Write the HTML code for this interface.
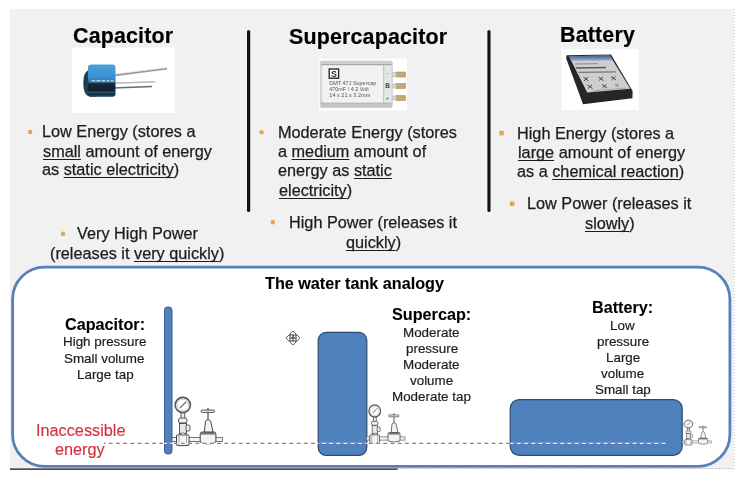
<!DOCTYPE html>
<html><head><meta charset="utf-8">
<style>
html,body{margin:0;padding:0;background:#fff;}
body{width:748px;height:485px;position:relative;overflow:hidden;font-family:"Liberation Sans",sans-serif;color:#222;}
.bg{position:absolute;left:10px;top:9px;width:723px;height:460px;background:#f1f1f1;}
.a{position:absolute;white-space:pre;line-height:1;will-change:transform;}
.h{font-size:21.4px;font-weight:bold;color:#000;letter-spacing:0.18px;-webkit-text-stroke:0.2px #000;}
.t{font-size:16.25px;color:#1c1c1c;-webkit-text-stroke:0.25px #1c1c1c;}
.b{font-size:16.2px;font-weight:bold;color:#000;-webkit-text-stroke:0.1px #000;}
.s{font-size:13.4px;color:#1c1c1c;-webkit-text-stroke:0.2px #1c1c1c;}
.r{font-size:16.25px;color:#d6313f;-webkit-text-stroke:0.15px #d6313f;}
u{text-decoration-thickness:1.4px;text-underline-offset:2.2px;text-decoration-skip-ink:none;}
svg{position:absolute;overflow:visible;}
</style></head><body>
<div class="bg"></div>
<svg width="748" height="485" style="left:0;top:0" viewBox="0 0 748 485">
<defs>
<filter id="soft" x="-10%" y="-10%" width="120%" height="120%"><feGaussianBlur stdDeviation="0.35"/></filter>
<linearGradient id="capg" x1="0" y1="0" x2="0" y2="1">
<stop offset="0" stop-color="#4aa2dc"/><stop offset="0.4" stop-color="#3a90d0"/><stop offset="0.44" stop-color="#3585c2"/><stop offset="0.56" stop-color="#2a5f85"/><stop offset="0.6" stop-color="#16283a"/><stop offset="0.82" stop-color="#131f2b"/><stop offset="0.86" stop-color="#2a5e82"/><stop offset="0.9" stop-color="#1a3042"/><stop offset="1" stop-color="#1e3a50"/>
</linearGradient>

<linearGradient id="batb" x1="0" y1="0" x2="0" y2="1">
<stop offset="0" stop-color="#3e5f92"/><stop offset="1" stop-color="#9bb0cc"/>
</linearGradient>

</defs>

<!-- frame -->
<rect x="12.6" y="267.1" width="717.3" height="199.3" rx="32" fill="#fff" stroke="#5881bb" stroke-width="2.8"/>
<line x1="10" y1="469.2" x2="397.6" y2="469.2" stroke="#111" stroke-width="1.3"/>
<line x1="397.6" y1="468.6" x2="734" y2="468.6" stroke="#9a9a9a" stroke-width="1" stroke-dasharray="1 2"/>
<line x1="734" y1="9" x2="734" y2="468.6" stroke="#b0b0b0" stroke-width="1" stroke-dasharray="1 2"/>
<!-- bullets & separators -->
<rect x="247" y="30" width="3.2" height="182" rx="1.6" fill="#111"/>
<rect x="487.4" y="30" width="3.1" height="182" rx="1.5" fill="#111"/>
<g fill="#e2a64c" filter="url(#soft)">
<circle cx="30.2" cy="131.9" r="2.2"/>
<circle cx="63" cy="233.8" r="2.2"/>
<circle cx="261.6" cy="132.3" r="2.2"/>
<circle cx="272.8" cy="222.3" r="2.2"/>
<rect x="499.3" y="130.9" width="4.5" height="4.5"/>
<rect x="509.9" y="201.5" width="4.5" height="4.5"/>
</g>
<!-- capacitor photo -->
<rect x="72" y="47.5" width="103" height="65.5" fill="#fff"/>
<g filter="url(#soft)">
<line x1="113" y1="75.5" x2="167" y2="68.6" stroke="#9a9a9a" stroke-width="1.8"/>
<line x1="113" y1="74.3" x2="166" y2="67.6" stroke="#e4e4e4" stroke-width="0.8"/>
<line x1="113" y1="83.3" x2="155" y2="81.8" stroke="#b8b8b8" stroke-width="1.4"/>
<line x1="113" y1="88" x2="152" y2="86.4" stroke="#6a6a6a" stroke-width="1.5"/>
<path d="M90 69.5 Q83.3 71 83.3 83 Q83.3 96.6 91 96.6 L96 96.6 L96 69.5 Z" fill="#1f4052"/>
<rect x="88" y="64.5" width="27.5" height="32.2" rx="3" fill="url(#capg)"/>
<rect x="90" y="79.6" width="25" height="2.4" fill="#4f94c8" opacity="0.9"/>
<path d="M92 80.8 h3 M96.5 80.8 h4 M102 80.8 h3 M107 80.8 h2 M111 80.8 h2" stroke="#dceaf6" stroke-width="1"/>

</g>
<!-- supercap photo -->
<rect x="319" y="58.5" width="88" height="52" fill="#fff"/>
<g filter="url(#soft)">
<g fill="#c8a674" stroke="#9a8058" stroke-width="0.5">
<rect x="396" y="72" width="9.5" height="5"/>
<rect x="396" y="83.5" width="9.5" height="5"/>
<rect x="396" y="95.5" width="9.5" height="5"/>
</g>
<g fill="#d6d6d6" stroke="#aaa" stroke-width="0.5">
<rect x="391.5" y="72.5" width="5" height="4"/>
<rect x="391.5" y="84" width="5" height="4"/>
<rect x="391.5" y="96" width="5" height="4"/>
</g>
<rect x="320.3" y="61" width="72" height="46.6" rx="1.5" fill="#dcdcdc" stroke="#bdbdbd" stroke-width="0.6"/>
<rect x="321" y="61.3" width="70.5" height="3.2" fill="#cfcfcf"/>
<line x1="321" y1="64.8" x2="391.5" y2="64.8" stroke="#8a8a8a" stroke-width="0.9"/>
<rect x="321" y="103.2" width="70.5" height="4" fill="#c4c4c4"/>
<line x1="321" y1="102.9" x2="391.5" y2="102.9" stroke="#999" stroke-width="0.8"/>
<rect x="322.5" y="65.4" width="61" height="37.2" fill="#f2f2f2"/>
<rect x="384" y="65.4" width="7.2" height="37.2" fill="#e6e6e6"/>
<line x1="383.7" y1="65" x2="383.7" y2="103" stroke="#b0b0b0" stroke-width="0.7"/>
<rect x="329.2" y="69" width="9.4" height="9.2" fill="#fff" stroke="#2a2a2a" stroke-width="1.4"/>
<text x="333.9" y="76.8" font-size="8.8" font-weight="bold" text-anchor="middle" fill="#2a2a2a" font-family="Liberation Sans">S</text>
<text x="329.3" y="84.9" font-size="5.7" fill="#555" font-family="Liberation Sans" textLength="47" lengthAdjust="spacingAndGlyphs">DMT 47J Supercap</text>
<text x="329.3" y="90.9" font-size="5.7" fill="#555" font-family="Liberation Sans" textLength="39.5" lengthAdjust="spacingAndGlyphs">470mF / 4.2 Volt</text>
<text x="329.3" y="96.9" font-size="5.7" fill="#555" font-family="Liberation Sans" textLength="41" lengthAdjust="spacingAndGlyphs">14 x 21 x 3.2mm</text>
<text x="387.6" y="75.3" font-size="6" fill="#555" text-anchor="middle" font-family="Liberation Sans">-</text>
<text x="387.6" y="87.6" font-size="6.5" font-weight="bold" fill="#444" text-anchor="middle" font-family="Liberation Sans">B</text>
<text x="387.6" y="99.5" font-size="6" fill="#555" text-anchor="middle" font-family="Liberation Sans">+</text>
</g>
<!-- battery photo -->
<rect x="561.5" y="49.3" width="77.2" height="60.7" fill="#fff"/>
<g filter="url(#soft)">
<path d="M566.5 55.3 L611 54.4 L632.6 91 L632.5 98.3 L583 104.3 L566.2 58.5 Z" fill="#282828"/>
<path d="M569 56.3 L609.8 55.6 L630.3 88.8 L587.2 92.6 Z" fill="#ccced0"/>
<path d="M569 56.3 L609.8 55.6 L612.9 60.6 L571.3 60.8 Z" fill="url(#batb)"/>
<g stroke="#444" stroke-width="1">
<path d="M575 64 L598 63.7" stroke="#8a8a8a" stroke-width="1"/>
<path d="M576 68 L606 67.6" stroke="#5a5a5a" stroke-width="1.5"/>
<path d="M578.5 72.3 L616 71.8" stroke="#777" stroke-width="1.2"/>
<path d="M583.5 77 L588.5 81 M584 81 L588 76.8"/>
<path d="M598.5 77 L603.5 80.5 M599 80.5 L603 76.8"/>
<path d="M611 76.5 L616 80 M611.5 80 L615.5 76.3"/>
<path d="M587.5 85 L592.5 88.5 M588 88.5 L592 84.8"/>
<path d="M602 84.5 L607 88 M602.5 88 L606.5 84.3"/>
<path d="M615 84 L619 86.5 M615.5 86.5 L618.5 83.8" stroke="#888"/>
<path d="M591 91 L626 88" stroke="#999" stroke-width="0.7"/>
</g>
</g>
<!-- tanks -->
<rect x="164.5" y="307" width="7.5" height="147" rx="3.2" fill="#4f81bd" stroke="#385d8a" stroke-width="1"/>
<rect x="318.2" y="332.3" width="48.6" height="123" rx="8" fill="#4f81bd" stroke="#2c4a70" stroke-width="1.2"/>
<rect x="510.2" y="399.6" width="172" height="55.8" rx="9" fill="#4f81bd" stroke="#2c4a70" stroke-width="1.2"/>

<!-- valves -->
<g>
 <!-- pipe -->
 <rect x="172" y="437.5" width="50.4" height="4" fill="#f4f4f4" stroke="#666" stroke-width="0.9"/>
 <!-- tee -->
 <rect x="176.5" y="434.8" width="12.5" height="10.8" rx="1" fill="#f6f6f6" stroke="#444" stroke-width="1"/>
 <line x1="179" y1="435" x2="179" y2="445.5" stroke="#888" stroke-width="0.8"/>
 <line x1="186.5" y1="435" x2="186.5" y2="445.5" stroke="#888" stroke-width="0.8"/>
 <!-- gauge stem / fittings -->
 <rect x="181" y="412.5" width="3.8" height="6" fill="#eee" stroke="#454545" stroke-width="0.9"/>
 <rect x="178.5" y="418" width="8.5" height="5" rx="2" fill="#eee" stroke="#454545" stroke-width="0.9"/>
 <rect x="179.5" y="423.5" width="7" height="10" fill="#e8e8e8" stroke="#454545" stroke-width="0.9"/>
 <rect x="186" y="425" width="4" height="6" rx="1.5" fill="#eee" stroke="#454545" stroke-width="0.9"/>
 <rect x="181" y="433" width="4" height="2" fill="#ddd" stroke="#555" stroke-width="0.6"/>
 <!-- gauge -->
 <circle cx="182.8" cy="405" r="7.6" fill="#fff" stroke="#555" stroke-width="1.6"/>
 <circle cx="182.8" cy="405" r="5.8" fill="none" stroke="#aaa" stroke-width="0.6"/>
 <line x1="180" y1="407.8" x2="186.3" y2="401.6" stroke="#555" stroke-width="1.1"/>
 <!-- valve -->
 <path d="M200.2 434 Q200.2 432 202.5 432 L213.6 432 Q215.9 432 215.9 434 L215.9 441 Q215.9 443.3 213 443.3 Q208 444.6 203 443.3 Q200.2 443.3 200.2 441 Z" fill="#f4f4f4" stroke="#444" stroke-width="1"/>
 <rect x="200.5" y="432" width="15" height="2.6" fill="#777"/>
 <path d="M204.3 432 L205.5 421 Q208 418 210.6 421 L213.1 432 Z" fill="#f4f4f4" stroke="#444" stroke-width="1"/>
 <line x1="208" y1="412" x2="208" y2="419.5" stroke="#555" stroke-width="1.3"/>
 <rect x="201" y="410" width="13.5" height="2.4" rx="1.2" fill="#eee" stroke="#454545" stroke-width="0.9"/>
 <rect x="207" y="408.3" width="2" height="2" fill="#666"/>
</g>
<g transform="translate(374.7 410.9) scale(0.766 0.8) translate(-182.8 -405)">
 <!-- pipe -->
 <rect x="172" y="437.5" width="50.4" height="4" fill="#f4f4f4" stroke="#666" stroke-width="0.9"/>
 <!-- tee -->
 <rect x="176.5" y="434.8" width="12.5" height="10.8" rx="1" fill="#f6f6f6" stroke="#444" stroke-width="1"/>
 <line x1="179" y1="435" x2="179" y2="445.5" stroke="#888" stroke-width="0.8"/>
 <line x1="186.5" y1="435" x2="186.5" y2="445.5" stroke="#888" stroke-width="0.8"/>
 <!-- gauge stem / fittings -->
 <rect x="181" y="412.5" width="3.8" height="6" fill="#eee" stroke="#454545" stroke-width="0.9"/>
 <rect x="178.5" y="418" width="8.5" height="5" rx="2" fill="#eee" stroke="#454545" stroke-width="0.9"/>
 <rect x="179.5" y="423.5" width="7" height="10" fill="#e8e8e8" stroke="#454545" stroke-width="0.9"/>
 <rect x="186" y="425" width="4" height="6" rx="1.5" fill="#eee" stroke="#454545" stroke-width="0.9"/>
 <rect x="181" y="433" width="4" height="2" fill="#ddd" stroke="#555" stroke-width="0.6"/>
 <!-- gauge -->
 <circle cx="182.8" cy="405" r="7.6" fill="#fff" stroke="#555" stroke-width="1.6"/>
 <circle cx="182.8" cy="405" r="5.8" fill="none" stroke="#aaa" stroke-width="0.6"/>
 <line x1="180" y1="407.8" x2="186.3" y2="401.6" stroke="#555" stroke-width="1.1"/>
 <!-- valve -->
 <path d="M200.2 434 Q200.2 432 202.5 432 L213.6 432 Q215.9 432 215.9 434 L215.9 441 Q215.9 443.3 213 443.3 Q208 444.6 203 443.3 Q200.2 443.3 200.2 441 Z" fill="#f4f4f4" stroke="#444" stroke-width="1"/>
 <rect x="200.5" y="432" width="15" height="2.6" fill="#777"/>
 <path d="M204.3 432 L205.5 421 Q208 418 210.6 421 L213.1 432 Z" fill="#f4f4f4" stroke="#444" stroke-width="1"/>
 <line x1="208" y1="412" x2="208" y2="419.5" stroke="#555" stroke-width="1.3"/>
 <rect x="201" y="410" width="13.5" height="2.4" rx="1.2" fill="#eee" stroke="#454545" stroke-width="0.9"/>
 <rect x="207" y="408.3" width="2" height="2" fill="#666"/>
</g>
<g transform="translate(688.4 424.1) scale(0.58 0.517) translate(-182.8 -405)">
 <!-- pipe -->
 <rect x="172" y="437.5" width="50.4" height="4" fill="#f4f4f4" stroke="#666" stroke-width="0.9"/>
 <!-- tee -->
 <rect x="176.5" y="434.8" width="12.5" height="10.8" rx="1" fill="#f6f6f6" stroke="#444" stroke-width="1"/>
 <line x1="179" y1="435" x2="179" y2="445.5" stroke="#888" stroke-width="0.8"/>
 <line x1="186.5" y1="435" x2="186.5" y2="445.5" stroke="#888" stroke-width="0.8"/>
 <!-- gauge stem / fittings -->
 <rect x="181" y="412.5" width="3.8" height="6" fill="#eee" stroke="#454545" stroke-width="0.9"/>
 <rect x="178.5" y="418" width="8.5" height="5" rx="2" fill="#eee" stroke="#454545" stroke-width="0.9"/>
 <rect x="179.5" y="423.5" width="7" height="10" fill="#e8e8e8" stroke="#454545" stroke-width="0.9"/>
 <rect x="186" y="425" width="4" height="6" rx="1.5" fill="#eee" stroke="#454545" stroke-width="0.9"/>
 <rect x="181" y="433" width="4" height="2" fill="#ddd" stroke="#555" stroke-width="0.6"/>
 <!-- gauge -->
 <circle cx="182.8" cy="405" r="7.6" fill="#fff" stroke="#555" stroke-width="1.6"/>
 <circle cx="182.8" cy="405" r="5.8" fill="none" stroke="#aaa" stroke-width="0.6"/>
 <line x1="180" y1="407.8" x2="186.3" y2="401.6" stroke="#555" stroke-width="1.1"/>
 <!-- valve -->
 <path d="M200.2 434 Q200.2 432 202.5 432 L213.6 432 Q215.9 432 215.9 434 L215.9 441 Q215.9 443.3 213 443.3 Q208 444.6 203 443.3 Q200.2 443.3 200.2 441 Z" fill="#f4f4f4" stroke="#444" stroke-width="1"/>
 <rect x="200.5" y="432" width="15" height="2.6" fill="#777"/>
 <path d="M204.3 432 L205.5 421 Q208 418 210.6 421 L213.1 432 Z" fill="#f4f4f4" stroke="#444" stroke-width="1"/>
 <line x1="208" y1="412" x2="208" y2="419.5" stroke="#555" stroke-width="1.3"/>
 <rect x="201" y="410" width="13.5" height="2.4" rx="1.2" fill="#eee" stroke="#454545" stroke-width="0.9"/>
 <rect x="207" y="408.3" width="2" height="2" fill="#666"/>
</g>

<!-- dashed line -->
<line x1="104" y1="443.4" x2="666" y2="443.4" stroke="#fff" stroke-width="1.4" opacity="0.9"/>
<line x1="104" y1="443.4" x2="666" y2="443.4" stroke="#d9586a" stroke-width="1.4" stroke-dasharray="3.7 3.525" stroke-dashoffset="2.4"/>

<!-- move cursor -->
<g stroke="#333" fill="#fff" stroke-width="0.8" stroke-linejoin="round">
<path d="M293 331.2 Q296.3 333.2 296.2 335 L289.8 335 Q289.7 333.2 293 331.2 Z"/>
<path d="M293 344.8 Q296.3 342.8 296.2 341 L289.8 341 Q289.7 342.8 293 344.8 Z"/>
<path d="M286.2 338 Q288.2 334.7 290 334.8 L290 341.2 Q288.2 341.3 286.2 338 Z"/>
<path d="M299.8 338 Q297.8 334.7 296 334.8 L296 341.2 Q297.8 341.3 299.8 338 Z"/>
</g>
<path d="M289.5 338 H296.5 M293 334.5 V341.5" stroke="#333" stroke-width="1.1"/>
</svg>
<div class="a h" style="left:73.2px;top:26px">Capacitor</div>
<div class="a h" style="left:288.8px;top:27px">Supercapacitor</div>
<div class="a h" style="left:559.6px;top:25px">Battery</div>
<div class="a t" style="left:42.2px;top:123px">Low Energy (stores a</div>
<div class="a t" style="left:43.0px;top:143px"><u>small</u> amount of energy</div>
<div class="a t" style="left:42.0px;top:161px">as <u>static electricity</u>)</div>
<div class="a t" style="left:76.6px;top:225px">Very High Power</div>
<div class="a t" style="left:49.7px;top:245px">(releases it <u>very quickly</u>)</div>
<div class="a t" style="left:278.2px;top:124px">Moderate Energy (stores</div>
<div class="a t" style="left:278.0px;top:143px">a <u>medium</u> amount of</div>
<div class="a t" style="left:278.0px;top:162px">energy as <u>static</u></div>
<div class="a t" style="left:279.0px;top:182px"><u>electricity</u>)</div>
<div class="a t" style="left:289.4px;top:214px">High Power (releases it</div>
<div class="a t" style="left:346.1px;top:234px"><u>quickly</u>)</div>
<div class="a t" style="left:517.4px;top:125px">High Energy (stores a</div>
<div class="a t" style="left:518.2px;top:144px"><u>large</u> amount of energy</div>
<div class="a t" style="left:516.9px;top:163px">as a <u>chemical reaction</u>)</div>
<div class="a t" style="left:527.4px;top:195px">Low Power (releases it</div>
<div class="a t" style="left:585.0px;top:215px"><u>slowly</u>)</div>
<div class="a b" style="left:265.2px;top:275px">The water tank analogy</div>
<div class="a b" style="left:64.8px;top:316px">Capacitor:</div>
<div class="a s" style="left:63.3px;top:335px">High pressure</div>
<div class="a s" style="left:64.0px;top:352px">Small volume</div>
<div class="a s" style="left:77.0px;top:368px">Large tap</div>
<div class="a b" style="left:391.5px;top:306px">Supercap:</div>
<div class="a s" style="left:403.3px;top:326px">Moderate</div>
<div class="a s" style="left:405.5px;top:342px">pressure</div>
<div class="a s" style="left:403.3px;top:358px">Moderate</div>
<div class="a s" style="left:410.0px;top:374px">volume</div>
<div class="a s" style="left:392.1px;top:390px">Moderate tap</div>
<div class="a b" style="left:591.7px;top:299px">Battery:</div>
<div class="a s" style="left:610.4px;top:319px">Low</div>
<div class="a s" style="left:596.6px;top:335px">pressure</div>
<div class="a s" style="left:605.6px;top:351px">Large</div>
<div class="a s" style="left:601.1px;top:367px">volume</div>
<div class="a s" style="left:594.8px;top:383px">Small tap</div>
<div class="a r" style="left:35.8px;top:422px">Inaccessible</div>
<div class="a r" style="left:54.8px;top:441px">energy</div>
</body></html>
